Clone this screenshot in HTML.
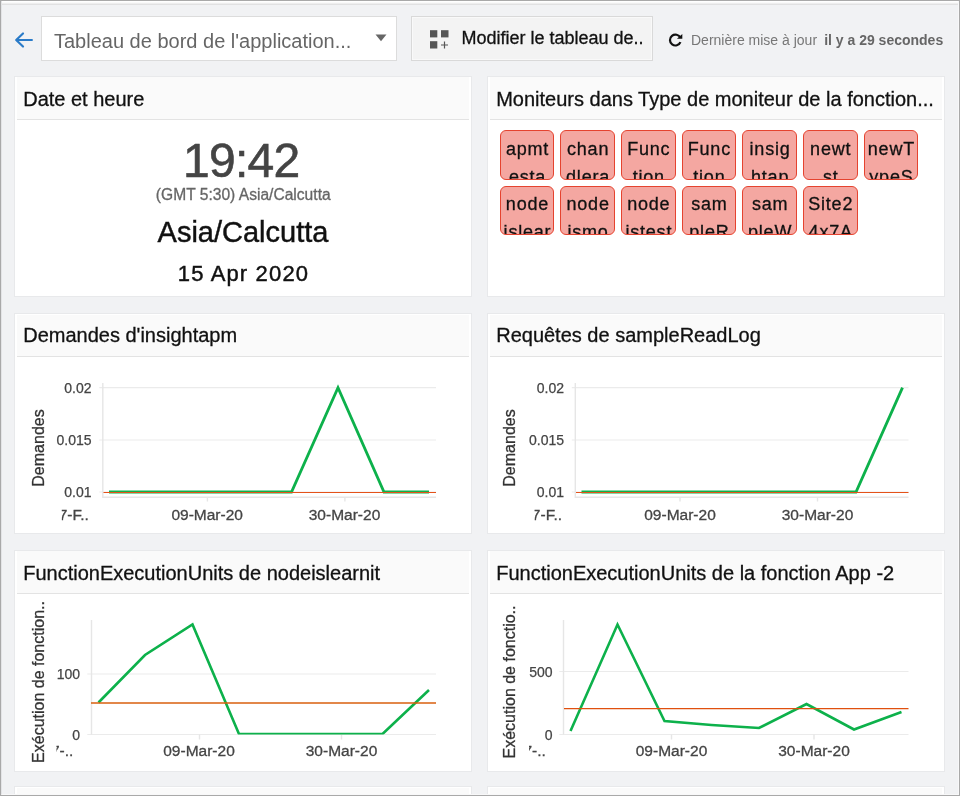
<!DOCTYPE html>
<html>
<head>
<meta charset="utf-8">
<style>
*{box-sizing:border-box;margin:0;padding:0}
html,body{width:960px;height:796px;overflow:hidden}
body{background:#f1f2f4;-webkit-font-smoothing:antialiased;font-family:"Liberation Sans",sans-serif;position:relative;color:#111}
#frame{position:absolute;left:0;top:0;width:960px;height:796px;border:1px solid #a9a9a9;z-index:50;pointer-events:none}
#frame2{position:absolute;left:1px;top:1px;width:958px;height:794px;border:1px solid #f8f8f9;border-left-color:#e3e4e6;border-top:none;z-index:49;pointer-events:none}
#topband{position:absolute;left:1px;top:1px;width:958px;height:4px;background:linear-gradient(#ffffff 0,#ffffff 25%,#fafafa 25%,#fafafa 50%,#eeeeee 50%,#eeeeee 75%,#e1e1e2 75%,#e1e1e2 100%)}
#topline{display:none}
#root{position:absolute;left:0;top:0;width:960px;height:796px;will-change:transform;opacity:0.999}
.abs{position:absolute}
.sel{position:absolute;left:41px;top:16px;width:356px;height:45px;background:#fff;border:1px solid #dcdcdc}
.sel span{position:absolute;left:12px;top:13px;font-size:20px;color:#666;white-space:nowrap}
.btn{position:absolute;left:411px;top:16px;width:242px;height:45px;background:#f3f3f3;border:1px solid #d9d9d9;box-shadow:inset 0 0 0 1px #f9f9f9}
.btn span{position:absolute;left:49.5px;top:11px;font-size:18px;color:#111;-webkit-text-stroke:0.3px #111;white-space:nowrap}
.card{position:absolute;width:458px;background:#fff;border:1px solid #e8e9eb;overflow:hidden}
.card .hd{position:absolute;left:2px;right:2px;top:0.5px;height:43px;background:#fafafa;border-bottom:1.5px solid #e3e3e3}
.card .hd span{position:absolute;left:6.2px;top:11px;font-size:20px;color:#111;-webkit-text-stroke:0.3px #111;white-space:nowrap}
.tag{position:absolute;width:54.6px;height:49.4px;letter-spacing:0.8px;-webkit-text-stroke:0.3px #111;background:#f4a7a1;border:1.6px solid #e5432f;border-radius:6px;overflow:hidden;text-align:center;font-size:18px;line-height:28px;color:#111;padding-top:3.6px;padding-left:0.8px}
svg text{font-family:"Liberation Sans",sans-serif}
</style>
</head>
<body>
<div id="root">
<div id="frame"></div><div id="frame2"></div><div id="topband"></div><div id="topline"></div>
<!-- back arrow -->
<svg class="abs" style="left:13px;top:31.1px" width="22" height="18" viewBox="0 0 22 18"><path d="M18.9 9H3.5M10 2.5L3.2 9l6.8 6.5" fill="none" stroke="#2a7bc8" stroke-width="2.2" stroke-linecap="round" stroke-linejoin="round"/></svg>
<div class="sel"><span>Tableau de bord de l'application...</span>
<svg class="abs" style="left:333px;top:17.3px" width="12" height="8" viewBox="0 0 12 8"><path d="M0.5 0.5h11L6 7.2z" fill="#666"/></svg>
</div>
<div class="btn">
<svg class="abs" style="left:17px;top:13px" width="22" height="20" viewBox="0 0 22 20"><rect x="1" y="0.2" width="7.3" height="7.2" fill="#555"/><rect x="12" y="0.2" width="7.5" height="7.2" fill="#555"/><rect x="1" y="11.2" width="7.3" height="7.3" fill="#555"/><path d="M15.5 11.5v7M12 15h7" stroke="#555" stroke-width="1.2" fill="none"/></svg>
<span>Modifier le tableau de..</span></div>
<!-- refresh -->
<svg class="abs" style="left:667px;top:32px" width="17" height="17" viewBox="0 0 17 17"><path d="M13.35 5.7A5.45 5.45 0 1 0 13.45 10.1" fill="none" stroke="#111" stroke-width="2.2"/><path d="M15.3 1.9V6.7H9.9z" fill="#111"/></svg>
<div id="upd" class="abs" style="left:691px;top:32px;font-size:14px;color:#777;white-space:nowrap">Dernière mise à jour <b id="updb" style="color:#666;margin-left:3.2px">il y a 29 secondes</b></div>

<!-- Card 1 -->
<div class="card" style="left:14px;width:458.3px;top:75.8px;height:221.5px">
 <div class="hd"><span>Date et heure</span></div>
 <div id="clk" class="abs" style="left:0;width:456px;top:56px;text-align:center;font-size:48px;letter-spacing:-0.7px;padding-right:3.6px;color:#444;-webkit-text-stroke:0.6px #444;line-height:56px">19:42</div>
 <div id="gmt" class="abs" style="left:0;width:456px;top:110px;text-align:center;font-size:15.6px;color:#666;-webkit-text-stroke:0.3px #666;padding-left:0.5px;line-height:16px">(GMT 5:30) Asia/Calcutta</div>
 <div id="tz" class="abs" style="left:0;width:456px;top:137.4px;text-align:center;font-size:29px;color:#111;-webkit-text-stroke:0.45px #111;line-height:36px">Asia/Calcutta</div>
 <div id="dt" class="abs" style="left:0;width:456px;top:184px;text-align:center;font-size:22px;letter-spacing:1.15px;padding-left:1px;color:#111;-webkit-text-stroke:0.45px #111;line-height:26px">15 Apr 2020</div>
</div>
<!-- Card 2 -->
<div class="card" style="left:487px;top:75.8px;height:221.5px">
 <div class="hd"><span>Moniteurs dans Type de moniteur de la fonction...</span></div>
 <div class="tag" style="left:11.8px;top:53.4px">apmt<br>esta</div>
 <div class="tag" style="left:72.4px;top:53.4px">chan<br>dlera</div>
 <div class="tag" style="left:133.1px;top:53.4px">Func<br>tion</div>
 <div class="tag" style="left:193.7px;top:53.4px">Func<br>tion</div>
 <div class="tag" style="left:254.4px;top:53.4px">insig<br>htap</div>
 <div class="tag" style="left:315.0px;top:53.4px">newt<br>st</div>
 <div class="tag" style="left:375.7px;top:53.4px">newT<br>ypeS</div>
 <div class="tag" style="left:11.8px;top:108.8px;height:49px;padding-top:3.8px">node<br>islear</div>
 <div class="tag" style="left:72.4px;top:108.8px;height:49px;padding-top:3.8px">node<br>ismo</div>
 <div class="tag" style="left:133.1px;top:108.8px;height:49px;padding-top:3.8px">node<br>istest</div>
 <div class="tag" style="left:193.7px;top:108.8px;height:49px;padding-top:3.8px">sam<br>pleR</div>
 <div class="tag" style="left:254.4px;top:108.8px;height:49px;padding-top:3.8px">sam<br>pleW</div>
 <div class="tag" style="left:315.0px;top:108.8px;height:49px;padding-top:3.8px">Site2<br>4x7A</div>
</div>
<!-- Card 3 -->
<div class="card" style="left:14px;width:458.3px;top:313px;height:221.3px">
 <div class="hd" style="height:42.3px"><span style="top:9.4px">Demandes d'insightapm</span></div>
</div>
<div class="card" style="left:487px;top:313px;height:221.3px">
 <div class="hd" style="height:42.3px"><span style="top:9.4px">Requêtes de sampleReadLog</span></div>
</div>
<div class="card" style="left:14px;width:458.3px;top:549.5px;height:222px">
 <div class="hd"><span>FunctionExecutionUnits de nodeislearnit</span></div>
</div>
<div class="card" style="left:487px;top:549.5px;height:222px">
 <div class="hd"><span>FunctionExecutionUnits de la fonction App -2</span></div>
</div>
<div class="card" style="left:14px;width:458.3px;top:786.3px;height:60px"><div class="hd"></div></div>
<div class="card" style="left:487px;top:786.3px;height:60px"><div class="hd"></div></div>
<!-- charts overlay -->
<svg class="abs" style="left:0;top:0" width="960" height="796" viewBox="0 0 960 796">
<defs>
 <clipPath id="c1"><rect x="61.8" y="500" width="40" height="30"/></clipPath>
 <clipPath id="c2"><rect x="534.6" y="500" width="40" height="30"/></clipPath>
 <clipPath id="c3"><rect x="56.5" y="738" width="30" height="30"/></clipPath>
 <clipPath id="c4"><rect x="529" y="738" width="30" height="30"/></clipPath>
 <clipPath id="p3"><rect x="80" y="600" width="400" height="134.4"/></clipPath>
 <clipPath id="p4"><rect x="550" y="600" width="400" height="134.4"/></clipPath>
</defs>
<g fill="none" stroke="#ebebeb" stroke-width="1.2">
 <path d="M99.3 387.6H436M99.3 440H436M99.3 492H436"/>
 <path d="M571.8 387.6H908.5M571.8 440H908.5M571.8 492H908.5"/>
 <path d="M87.3 674H436M87.3 734.5H436"/>
 <path d="M559.3 671.5H908.5M559.3 734.5H908.5"/>
</g>
<g fill="none" stroke="#e6e6e6" stroke-width="1.4">
 <path d="M102.8 383V497.3H436M207.4 497.5v4M344.9 497.5v4"/>
 <path d="M575.3 383V497.3H908.5M680 497.5v4M817.5 497.5v4"/>
 <path d="M91.5 620V734.5M199.5 734.5v5M341.5 734.5v5"/>
 <path d="M563.5 620V734.5M671.5 734.5v5M814 734.5v5"/>
</g>
<g fill="none" stroke="#0db14b" stroke-width="2.6" stroke-linejoin="miter">
 <path stroke-width="2.8" d="M109 492H291.5L338 387.6L384 492H429"/>
 <path stroke-width="2.8" d="M581.5 492H856L902.5 387.6"/>
 <path clip-path="url(#p3)" d="M98.5 702.5L145 655L192.5 624.5L239 734H382.5L429 690"/>
 <path clip-path="url(#p4)" d="M570.5 731L617.5 624.5L664.5 721L711.5 725L759 728L806.5 704L854 729.5L901.5 712"/>
</g>
<g fill="none" stroke="#e4521a" stroke-width="1">
 <path d="M103.5 492.5H436"/>
 <path d="M576 492.5H908.5"/>
</g>
<g fill="none" stroke="#d95f0e" stroke-width="1.4">
 <path d="M91 703H436"/>
 <path stroke="#e0500f" stroke-width="1.25" d="M564 708.5H908.5"/>
</g>
<g font-size="14" fill="#444" stroke="#444" stroke-width="0.25">
 <g text-anchor="end">
  <text x="91.5" y="392.5">0.02</text><text x="91.5" y="445">0.015</text><text x="91.5" y="497">0.01</text>
  <text x="564" y="392.5">0.02</text><text x="564" y="445">0.015</text><text x="564" y="497">0.01</text>
  <text x="80" y="679">100</text><text x="80" y="740">0</text>
  <text x="552.5" y="676.5">500</text><text x="552.5" y="740">0</text>
 </g>
</g>
<g font-size="15.5" fill="#444" stroke="#444" stroke-width="0.3">
 <g text-anchor="middle">
  <text x="207.2" y="520">09-Mar-20</text><text x="344.5" y="520">30-Mar-20</text>
  <text x="680" y="520">09-Mar-20</text><text x="817.5" y="520">30-Mar-20</text>
  <text x="199" y="756">09-Mar-20</text><text x="341.5" y="756">30-Mar-20</text>
  <text x="671.5" y="756">09-Mar-20</text><text x="814" y="756">30-Mar-20</text>
 </g>
 <text x="88.8" y="520" text-anchor="end" clip-path="url(#c1)">7-F..</text>
 <text x="562" y="520" text-anchor="end" clip-path="url(#c2)">7-F..</text>
 <text x="51" y="756" clip-path="url(#c3)">7-..</text>
 <text x="523.5" y="756" clip-path="url(#c4)">7-..</text>
</g>
<g font-size="16" fill="#333" stroke="#333" stroke-width="0.3" text-anchor="middle">
 <text transform="translate(44 448) rotate(-90)">Demandes</text>
 <text transform="translate(515.3 448) rotate(-90)">Demandes</text>
 <text transform="translate(44 682) rotate(-90)">Exécution de fonction..</text>
 <text transform="translate(515.3 682) rotate(-90)">Exécution de fonctio..</text>
</g>
</svg>
</div>
</body>
</html>
